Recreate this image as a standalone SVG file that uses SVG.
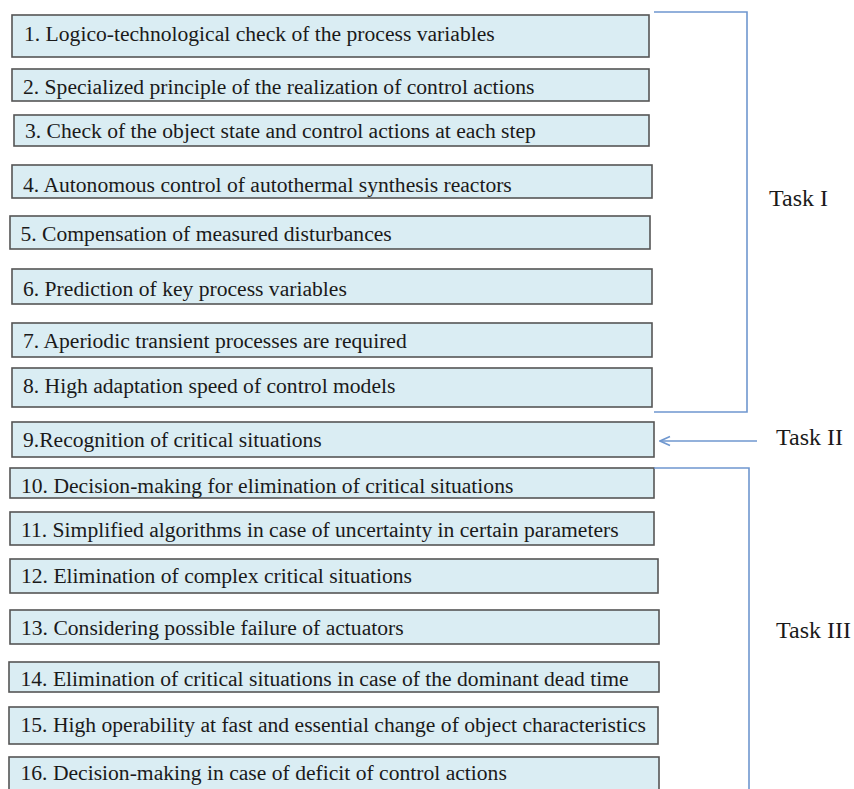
<svg xmlns="http://www.w3.org/2000/svg" width="854" height="789" viewBox="0 0 854 789">
<style>
.box{fill:#daedf3;stroke:#555;stroke-width:1.6}
.t{font-size:21.6px;fill:#1a1a1a}
.lbl{font-size:24px;fill:#1a1a1a}
.br{fill:none;stroke:#6f97cf;stroke-width:1.6}
</style>
<defs>
<marker id="arr" viewBox="0 0 12 12" refX="11" refY="6" markerWidth="12" markerHeight="12" markerUnits="userSpaceOnUse" orient="auto">
<path d="M1,1.5 L11,6 L1,10.5" fill="none" stroke="#6f97cf" stroke-width="1.6"/>
</marker>
<clipPath id="c1"><rect x="12" y="15" width="637" height="42"/></clipPath>
<clipPath id="c2"><rect x="12" y="69" width="637" height="32"/></clipPath>
<clipPath id="c3"><rect x="14" y="115" width="635" height="31"/></clipPath>
<clipPath id="c4"><rect x="12" y="165" width="640" height="33"/></clipPath>
<clipPath id="c5"><rect x="10" y="216" width="640" height="33"/></clipPath>
<clipPath id="c6"><rect x="12" y="269" width="640" height="35"/></clipPath>
<clipPath id="c7"><rect x="12" y="323" width="640" height="34"/></clipPath>
<clipPath id="c8"><rect x="12" y="368" width="640" height="39"/></clipPath>
<clipPath id="c9"><rect x="12" y="422" width="642" height="35"/></clipPath>
<clipPath id="c10"><rect x="10" y="468" width="644" height="30"/></clipPath>
<clipPath id="c11"><rect x="10" y="512" width="644" height="33"/></clipPath>
<clipPath id="c12"><rect x="10" y="559" width="648" height="34"/></clipPath>
<clipPath id="c13"><rect x="10" y="610" width="649" height="34"/></clipPath>
<clipPath id="c14"><rect x="9" y="662" width="650" height="30"/></clipPath>
<clipPath id="c15"><rect x="9" y="707" width="649" height="37"/></clipPath>
<clipPath id="c16"><rect x="9" y="757" width="650" height="50"/></clipPath>
</defs>

<g font-family="'Liberation Serif', 'DejaVu Serif', serif">
<g id="n1"><rect class="box" x="12" y="15" width="637" height="42"/><text class="t" x="24" y="41" clip-path="url(#c1)">1. Logico-technological check of the process variables</text></g>
<g id="n2"><rect class="box" x="12" y="69" width="637" height="32"/><text class="t" x="23" y="93.5" clip-path="url(#c2)">2. Specialized principle of the realization of control actions</text></g>
<g id="n3"><rect class="box" x="14" y="115" width="635" height="31"/><text class="t" x="25" y="138" clip-path="url(#c3)">3. Check of the object state and control actions at each step</text></g>
<g id="n4"><rect class="box" x="12" y="165" width="640" height="33"/><text class="t" x="23" y="191.5" clip-path="url(#c4)">4. Autonomous control of autothermal synthesis reactors</text></g>
<g id="n5"><rect class="box" x="10" y="216" width="640" height="33"/><text class="t" x="20.5" y="240.5" clip-path="url(#c5)">5. Compensation of measured disturbances</text></g>
<g id="n6"><rect class="box" x="12" y="269" width="640" height="35"/><text class="t" x="23" y="295.5" clip-path="url(#c6)">6. Prediction of key process variables</text></g>
<g id="n7"><rect class="box" x="12" y="323" width="640" height="34"/><text class="t" x="23" y="347.5" clip-path="url(#c7)">7. Aperiodic transient processes are required</text></g>
<g id="n8"><rect class="box" x="12" y="368" width="640" height="39"/><text class="t" x="23" y="392.5" clip-path="url(#c8)">8. High adaptation speed of control models</text></g>
<g id="n9"><rect class="box" x="12" y="422" width="642" height="35"/><text class="t" x="23" y="446.5" clip-path="url(#c9)">9.Recognition of critical situations</text></g>
<g id="n10"><rect class="box" x="10" y="468" width="644" height="30"/><text class="t" x="21" y="492.5" clip-path="url(#c10)">10. Decision-making for elimination of critical situations</text></g>
<g id="n11"><rect class="box" x="10" y="512" width="644" height="33"/><text class="t" x="21" y="537" clip-path="url(#c11)">11. Simplified algorithms in case of uncertainty in certain parameters</text></g>
<g id="n12"><rect class="box" x="10" y="559" width="648" height="34"/><text class="t" x="21" y="582.5" clip-path="url(#c12)">12. Elimination of complex critical situations</text></g>
<g id="n13"><rect class="box" x="10" y="610" width="649" height="34"/><text class="t" x="21" y="635" clip-path="url(#c13)">13. Considering possible failure of actuators</text></g>
<g id="n14"><rect class="box" x="9" y="662" width="650" height="30"/><text class="t" x="20.5" y="685.5" clip-path="url(#c14)">14. Elimination of critical situations in case of the dominant dead time</text></g>
<g id="n15"><rect class="box" x="9" y="707" width="649" height="37"/><text class="t" x="20.5" y="731.5" clip-path="url(#c15)">15. High operability at fast and essential change of object characteristics</text></g>
<g id="n16"><rect class="box" x="9" y="757" width="650" height="50"/><text class="t" x="20.5" y="780" clip-path="url(#c16)">16. Decision-making in case of deficit of control actions</text></g>

<g id="connectors">
<path class="br" d="M654,12 H747 V412 H654"/>
<path class="br" d="M757,441 H660" marker-end="url(#arr)"/>
<path class="br" d="M654,468 H749 V795"/>
</g>

<g id="labels">
<text class="lbl" x="769" y="206">Task I</text>
<text class="lbl" x="776" y="445">Task II</text>
<text class="lbl" x="776" y="638">Task III</text>
</g>
</g>
</svg>
